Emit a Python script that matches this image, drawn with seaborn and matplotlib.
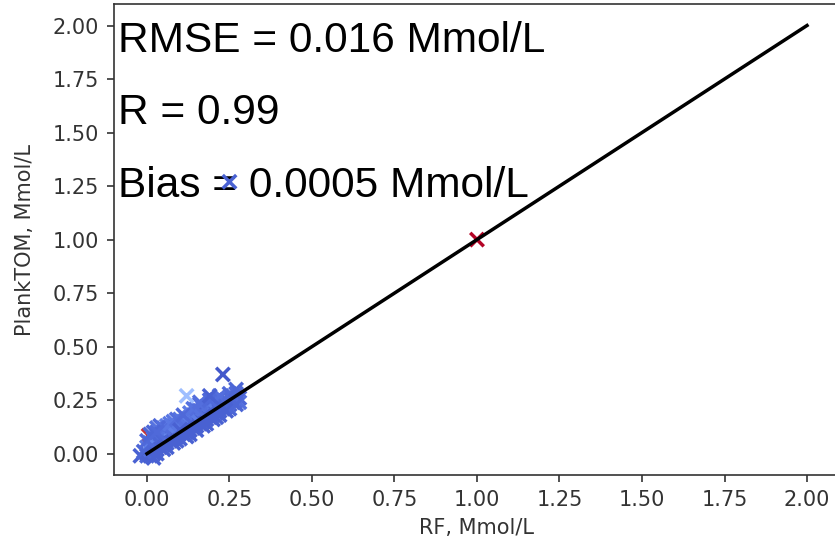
import matplotlib
matplotlib.use("Agg")
import matplotlib.pyplot as plt
import seaborn as sns
import pandas as pd

# ---- data ----
rf_blob = [0.00, 0.00, 0.01, 0.01, 0.00, 0.02, 0.02, 0.01, 0.03, 0.03, 0.02, 0.04, 0.04, 0.03,
           0.05, 0.05, 0.04, 0.06, 0.06, 0.05, 0.07, 0.07, 0.06, 0.08, 0.08, 0.07, 0.09, 0.09,
           0.08, 0.10, 0.10, 0.10, 0.11, 0.11, 0.11, 0.12, 0.12, 0.12, 0.13, 0.13, 0.13, 0.14,
           0.14, 0.14, 0.15, 0.15, 0.15, 0.16, 0.16, 0.16, 0.17, 0.17, 0.17, 0.18, 0.18, 0.18,
           0.19, 0.19, 0.19, 0.20, 0.20, 0.20, 0.21, 0.21, 0.21, 0.22, 0.22, 0.22, 0.23, 0.23,
           0.24, 0.24, 0.25, 0.25, 0.26, 0.26, 0.27, 0.27, 0.28, 0.28, 0.05, 0.08, 0.12, 0.15,
           0.18, 0.22, 0.25, 0.02, 0.03, 0.06, 0.09, 0.13, 0.17, 0.20, 0.24, 0.27, 0.06, 0.08,
           0.10, 0.13, 0.15, 0.16, 0.03, 0.04, 0.05, 0.02, 0.07, 0.09, 0.11, 0.14, 0.16, 0.19,
           0.22, 0.25, 0.27, -0.02, -0.01, 0.00, 0.01, 0.03, 0.10, 0.21]
pt_blob = [0.00, -0.01, 0.02, -0.01, 0.03, 0.00, 0.04, 0.05, 0.02, 0.05, 0.07, 0.03, 0.06, 0.08,
           0.04, 0.07, 0.09, 0.05, 0.08, 0.10, 0.06, 0.09, 0.11, 0.07, 0.10, 0.12, 0.08, 0.11,
           0.13, 0.07, 0.10, 0.13, 0.09, 0.12, 0.15, 0.10, 0.13, 0.16, 0.11, 0.14, 0.17, 0.12,
           0.15, 0.18, 0.13, 0.16, 0.19, 0.14, 0.17, 0.20, 0.15, 0.18, 0.21, 0.16, 0.19, 0.22,
           0.17, 0.20, 0.23, 0.18, 0.21, 0.24, 0.19, 0.22, 0.25, 0.20, 0.23, 0.26, 0.21, 0.24,
           0.22, 0.25, 0.23, 0.26, 0.24, 0.27, 0.25, 0.28, 0.26, 0.24, 0.02, 0.05, 0.08, 0.11,
           0.14, 0.18, 0.21, -0.02, 0.00, 0.03, 0.06, 0.09, 0.13, 0.16, 0.20, 0.23, 0.13, 0.15,
           0.16, 0.19, 0.21, 0.23, 0.12, 0.13, 0.12, 0.10, 0.14, 0.16, 0.18, 0.21, 0.24, 0.25,
           0.27, 0.28, 0.30, -0.01, 0.01, 0.06, 0.09, 0.10, 0.11, 0.17]
hue_blob = [0.05, 0.06, 0.08, 0.05, 0.10, 0.05, 0.07, 0.12, 0.05, 0.08, 0.10, 0.05, 0.06, 0.13,
            0.05, 0.07, 0.09, 0.05, 0.06, 0.11, 0.05, 0.08, 0.10, 0.05, 0.07, 0.14, 0.05, 0.06,
            0.09, 0.05, 0.05, 0.10, 0.06, 0.07, 0.12, 0.05, 0.06, 0.08, 0.05, 0.07, 0.10, 0.05,
            0.06, 0.11, 0.05, 0.06, 0.09, 0.05, 0.07, 0.08, 0.05, 0.06, 0.10, 0.05, 0.05, 0.08,
            0.06, 0.07, 0.10, 0.05, 0.05, 0.09, 0.06, 0.07, 0.11, 0.05, 0.06, 0.08, 0.05, 0.07,
            0.06, 0.08, 0.05, 0.07, 0.06, 0.09, 0.05, 0.07, 0.06, 0.08, 0.05, 0.05, 0.05, 0.05,
            0.05, 0.05, 0.06, 0.05, 0.05, 0.05, 0.05, 0.05, 0.05, 0.05, 0.05, 0.06, 0.12, 0.10,
            0.09, 0.11, 0.08, 0.08, 0.09, 0.07, 0.08, 0.06, 0.10, 0.08, 0.07, 0.09, 0.08, 0.07,
            0.08, 0.07, 0.06, 0.05, 0.06, 0.07, 0.06, 0.07, 0.05, 0.05]

rf_outliers = [0.005, 0.12, 0.19, 0.23, 0.25, 1.00]
pt_outliers = [0.085, 0.27, 0.27, 0.37, 1.27, 1.00]
hue_outliers = [0.95, 0.30, 0.05, 0.03, 0.05, 1.00]

line_x = [0.0, 2.0]
line_y = [0.0, 2.0]

ticks = [0.00, 0.25, 0.50, 0.75, 1.00, 1.25, 1.50, 1.75, 2.00]
stats_text = ["RMSE = 0.016 Mmol/L", "R = 0.99", "Bias = 0.0005 Mmol/L"]
stats_y = [1.875, 1.541, 1.198]

df = pd.DataFrame({
    "rf": rf_outliers[:1] + rf_blob + rf_outliers[1:],
    "pt": pt_outliers[:1] + pt_blob + pt_outliers[1:],
    "hue": hue_outliers[:1] + hue_blob + hue_outliers[1:],
})

# ---- figure ----
fig = plt.figure(figsize=(8.35, 5.46), dpi=100)
ax = fig.add_axes([0.1365, 0.1299, 0.8695, 0.8626])

sns.scatterplot(data=df, x="rf", y="pt", hue="hue", palette="coolwarm",
                hue_norm=(0, 1), marker="x", s=95, linewidth=2.5,
                legend=False, ax=ax, zorder=3)
sns.lineplot(x=line_x, y=line_y, color="black", linewidth=2.5, ax=ax,
             zorder=4, legend=False)

for txt, yy in zip(stats_text, stats_y):
    ax.text(-0.088, yy, txt, fontsize=30.5, family="Liberation Sans",
            va="baseline", ha="left", color="black", zorder=2)

ax.set_xlim(-0.1, 2.1)
ax.set_ylim(-0.1, 2.1)
ax.set_xticks(ticks)
ax.set_yticks(ticks)
ax.set_xticklabels([f"{t:.2f}" for t in ticks])
ax.set_yticklabels([f"{t:.2f}" for t in ticks])
ax.tick_params(labelsize=15, length=5.3, width=1.2, pad=5.3, colors="#333333",
               labelcolor="#333333")
for sp in ax.spines.values():
    sp.set_linewidth(1.2)
    sp.set_color("#333333")
ax.set_xlabel("RF, Mmol/L", fontsize=15, color="#333333", labelpad=6)
ax.set_ylabel("PlankTOM, Mmol/L", fontsize=15, color="#333333", labelpad=13)

fig.savefig("out.png", dpi=100)
